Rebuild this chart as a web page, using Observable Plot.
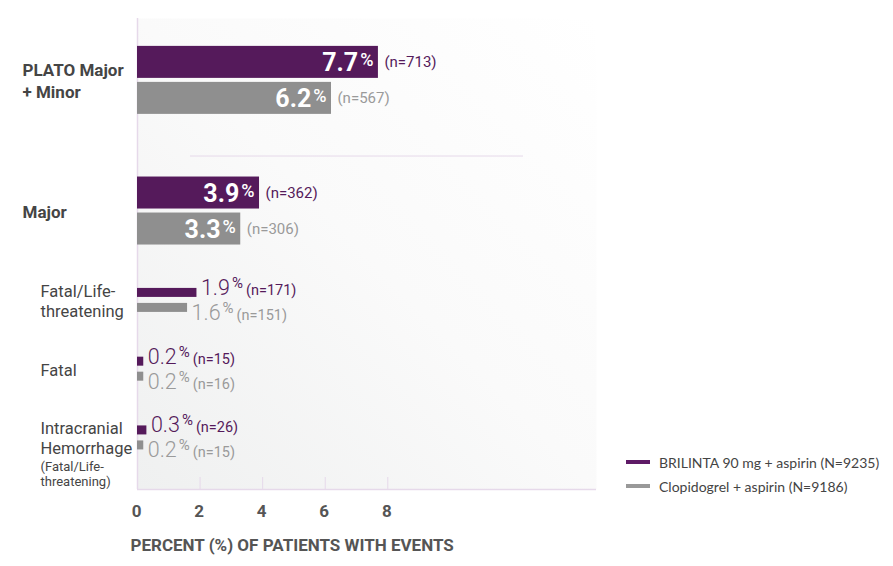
<!DOCTYPE html>
<html><head><meta charset="utf-8">
<script src="https://cdn.jsdelivr.net/npm/d3@7"></script>
<script src="https://cdn.jsdelivr.net/npm/@observablehq/plot@0.6"></script>
<style>
body{margin:0;background:#fff;}
#wrap{position:relative;width:893px;height:566px;overflow:hidden;}
#legend{position:absolute;left:626px;top:450px;font-family:Lato,sans-serif;font-size:14px;color:#444;}
.item{display:flex;align-items:center;height:24px;}
.sw{width:24px;height:4px;margin-right:9px;}
</style></head><body>
<div id="wrap"><div id="chart"></div><div id="legend"></div></div>
<script>
// ---- data ----
const categories = ["PLATO Major\n+ Minor", "Major", "Fatal/Life-\nthreatening", "Fatal", "Intracranial\nHemorrhage"];
const categoryNotes = ["", "", "", "", "(Fatal/Life-\nthreatening)"];
const mainCategory = [true, true, false, false, false];
const series = ["BRILINTA 90 mg + aspirin (N=9235)", "Clopidogrel + aspirin (N=9186)"];
const brilintaPct = [7.7, 3.9, 1.9, 0.2, 0.3];
const clopidogrelPct = [6.2, 3.3, 1.6, 0.2, 0.2];
const brilintaN = [713, 362, 171, 15, 26];
const clopidogrelN = [567, 306, 151, 16, 15];
const xTicks = [0, 2, 4, 6, 8];
const xLabel = "PERCENT (%) OF PATIENTS WITH EVENTS";

// ---- style / layout ----
const purple = "#551a5b", gray = "#8f8f8f";
const textPurple = "#551a5b", textGray = "#9a9a9a";
const lav = "#e6d9ea";
const W = 893, H = 566, mT = 18, mB = 77, mL = 137, mR = 297;
const xMax = 14.67;
const yDom = [-0.1, 6.75];
const u = (H - mT - mB) / (yDom[1] - yDom[0]);

let pos = 0, sepY = 0;
const centers = [];
categories.forEach((c, i) => {
  const w = mainCategory[i] ? 1.6 : 1;
  centers.push(pos + w / 2);
  pos += w;
  if (i === 0) { pos += 0.3; sepY = pos; }
});

const rows = [];
categories.forEach((c, i) => {
  const m = mainCategory[i];
  const outer = (m ? 34 : 12) / u, inner = (m ? 2 : 3) / u;
  rows.push({cat: i, s: 0, v: brilintaPct[i], n: brilintaN[i], y1: centers[i] - outer, y2: centers[i] - inner, main: m});
  rows.push({cat: i, s: 1, v: clopidogrelPct[i], n: clopidogrelN[i], y1: centers[i] + inner, y2: centers[i] + outer, main: m});
});
rows.forEach(r => r.ym = (r.y1 + r.y2) / 2);
const catIdx = categories.map((c, i) => i);

const chart = Plot.plot({
  width: W, height: H,
  marginTop: mT, marginBottom: mB, marginLeft: mL, marginRight: mR,
  style: {fontFamily: "Roboto, sans-serif", background: "transparent"},
  x: {domain: [0, xMax], axis: null},
  y: {domain: yDom, reverse: true, axis: null},
  color: {type: "identity"},
  marks: [
    Plot.frame({fill: "url(#bgGrad)", stroke: "none"}),
    Plot.ruleX([0], {stroke: lav, strokeWidth: 1.5}),
    Plot.ruleY([yDom[1]], {stroke: lav, strokeWidth: 1.5}),
    Plot.ruleX(xTicks.filter(d => d > 0), {y1: yDom[1], y2: yDom[1] - 12 / u, stroke: lav}),
    Plot.ruleY([sepY], {stroke: lav, insetLeft: 53, insetRight: 73}),
    Plot.rect(rows, {x1: 0, x2: "v", y1: "y1", y2: "y2", fill: d => d.s ? gray : purple}),
    // big value labels inside bars
    Plot.text(rows.filter(r => r.main), {x: "v", y: "ym", text: d => d.v.toFixed(1), textAnchor: "end", dx: -5, dy: 1,
      fill: "white", fontSize: 25, fontWeight: "bold", ariaDescription: "pct-big"}),
    Plot.text(rows.filter(r => r.main), {x: "v", y: "ym", text: d => `(n=${d.n})`, textAnchor: "start", dx: 6,
      fill: d => d.s ? textGray : textPurple, fontSize: 15}),
    // small value labels outside bars
    Plot.text(rows.filter(r => !r.main && r.s === 0), {x: "v", y: "ym", text: d => `${d.v.toFixed(1)}|${d.n}`, textAnchor: "start",
      dx: 4, dy: -5, fill: textPurple, fontSize: 21.5, fontWeight: 300, ariaDescription: "pct-sub"}),
    Plot.text(rows.filter(r => !r.main && r.s === 1), {x: "v", y: "ym", text: d => `${d.v.toFixed(1)}|${d.n}`, textAnchor: "start",
      dx: 4, dy: 5, fill: textGray, fontSize: 21.5, fontWeight: 300, ariaDescription: "pct-sub"}),
    // category labels
    Plot.text(catIdx.filter(i => mainCategory[i]), {y: i => centers[i], text: i => categories[i], frameAnchor: "left",
      textAnchor: "start", dx: -115, fontSize: 17, fontWeight: "bold", lineHeight: 1.3, fill: "#454545"}),
    Plot.text(catIdx.filter(i => !mainCategory[i]), {y: i => centers[i], text: i => categories[i], frameAnchor: "left",
      textAnchor: "start", dx: -97, fontSize: 16.5, lineHeight: 1.2, fill: "#454545"}),
    Plot.text(catIdx.filter(i => categoryNotes[i]), {y: i => centers[i], text: i => categoryNotes[i], frameAnchor: "left",
      textAnchor: "start", dx: -97, dy: 36, fontSize: 13, lineHeight: 1.15, fill: "#454545"}),
    // x tick labels and title
    Plot.text(xTicks, {x: d => d, text: d => String(d), frameAnchor: "bottom", lineAnchor: "top", dy: 15, dx: -1,
      fontSize: 17, fontWeight: "bold", fill: "#555"}),
    Plot.text([xLabel], {frameAnchor: "bottom-left", textAnchor: "start", lineAnchor: "middle", dx: -7, dy: 56,
      fontSize: 17, fontWeight: "bold", fill: "#555"})
  ]
});
document.getElementById("chart").appendChild(chart);

const svg = d3.select(chart);
svg.insert("defs", ":first-child").html(
  `<linearGradient id="bgGrad" x1="0" y1="1" x2="1" y2="0">
     <stop offset="0" stop-color="#eff0f0"/><stop offset="0.5" stop-color="#fafafa"/><stop offset="1" stop-color="#ffffff"/>
   </linearGradient>`);

svg.selectAll('g[aria-description="pct-big"] text').each(function() {
  const t = d3.select(this); const v = t.text(); t.text(null);
  t.append("tspan").text(v);
  t.append("tspan").attr("dx", 2).attr("dy", -5).attr("font-size", 18).attr("font-weight", 500).text("%");
});
svg.selectAll('g[aria-description="pct-sub"] text').each(function() {
  const t = d3.select(this); const [v, n] = t.text().split("|"); t.text(null);
  t.append("tspan").text(v);
  t.append("tspan").attr("dx", 2).attr("dy", -7).attr("font-size", 15).attr("font-weight", 400).text("%");
  t.append("tspan").attr("dx", 3).attr("dy", 7).attr("font-size", 14.5).attr("font-weight", 400).text(`(n=${n})`);
});

// legend
const legend = d3.select("#legend");
[purple, gray].forEach((c, i) => {
  const it = legend.append("div").attr("class", "item");
  it.append("div").attr("class", "sw").style("background", i === 0 ? "#5e1a66" : "#999");
  it.append("span").text(series[i]);
});
</script>
</body></html>
